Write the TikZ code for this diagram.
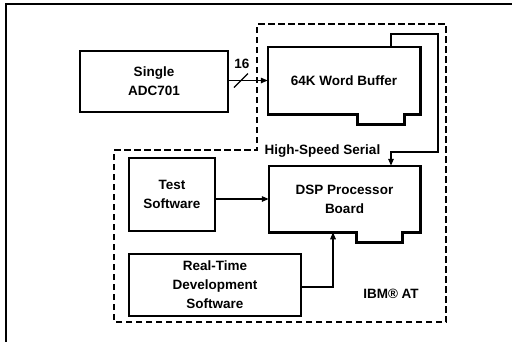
\documentclass[tikz,border=0pt]{standalone}
\usepackage{fontspec}
\setmainfont{Liberation Sans}
\usetikzlibrary{arrows.meta,positioning}
\tikzset{
  box/.style={draw,line width=2.5pt,align=center,inner sep=2pt,
              font=\bfseries\fontsize{13.5}{19}\selectfont},
  card/.style={box,draw=none},
  edge/.style={line width=2.5pt},
  zone/.style={line width=2.8pt,dash pattern=on 6.5pt off 3.5pt},
  frame/.style={line width=2.8pt},
  arr/.style={-{Triangle[length=7pt,width=5.5pt]},line width=1.4pt},
  lbl/.style={font=\bfseries\fontsize{13.5}{16}\selectfont,inner sep=1pt},
}
\begin{document}
\begin{tikzpicture}[x=1pt,y=-1pt]
    \clip (0,0) rectangle (512,341);
    \draw[frame] (6,360) -- (6,4) -- (530,4);
    \draw[zone] (114,150) -- (257,150) -- (257,24) -- (446,24)
      -- (446,322) -- (114,322) -- cycle;
    \node[box,minimum width=148pt,minimum height=61pt] (adc) at (154,81.5) {Single\\ADC701};
    \node[card,minimum width=150pt,minimum height=65pt] (buf) at (344,80.5) {64K Word Buffer};
    \node[card,minimum width=149pt,minimum height=64pt] (dsp) at (344.5,199) {DSP Processor\\Board};
    \node[box,minimum width=86pt,minimum height=73pt] (test) at (172,194.5) {Test\\Software};
    \node[box,minimum width=172pt,minimum height=62pt] (rt) at (215,285) {Real-Time\\Development\\Software};
    \node[lbl] (hss) at (322.5,151) {High-Speed Serial};
    \node[lbl] (ibm) at (391,294) {IBM® AT};
    \node[lbl] (bw) at (242,64) {16};
    \draw[edge] (buf.south west) -- (buf.north west) -- (buf.north east) -- (buf.south east)
      -- ++(-16,0) -- ++(0,10) -- ++(-47,0) -- ++(0,-10) -- cycle;
    \draw[edge] (dsp.south west) -- (dsp.north west) -- (dsp.north east) -- (dsp.south east)
      -- ++(-18,0) -- ++(0,10) -- ++(-46,0) -- ++(0,-10) -- cycle;
    \coordinate (sl) at (241,80.5);
    \coordinate (hs1) at (391,34);
    \coordinate (hs2) at (438,152);
    \draw[arr] (adc.east |- sl) -- (buf.west |- sl);
    \draw[line width=1.4pt] ([shift={(-7,7)}]sl) -- ([shift={(7,-7)}]sl);
    \draw[arr] (buf.north -| hs1) -- (hs1) -| (hs2) -- (hs2 -| hs1) -- (dsp.north -| hs1);
    \draw[arr] (dsp.west -| test.east) -- (dsp.west);
    \draw[arr] ([yshift=-2pt]rt.east) -| ([xshift=-11.5pt]dsp.south);
  \end{tikzpicture}
\end{document}
